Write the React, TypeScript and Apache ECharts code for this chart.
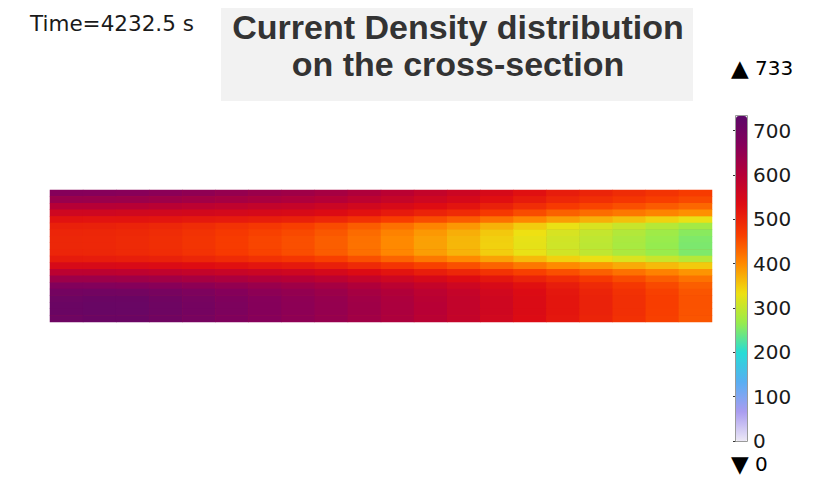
import React, { useEffect, useRef } from "react";
import * as echarts from "echarts";

// Cross-section columns (left to right) and rows (top to bottom)
const columns = ["0","1","2","3","4","5","6","7","8","9","10","11","12","13","14","15","16","17","18","19"];
const rows = ["r0","r1","r2","r3","r4","r5","r6","r7","r8","r9","r10","r11","r12","r13","r14","r15","r16","r17","r18","r19"];

// Current density values per row (A/m^2), left to right
const row0 = [668,667,664,660,654,646,639,632,622,609,593,578,565,546,528,510,500,489,479,468];
const row1 = [640,639,637,633,628,622,616,610,601,588,574,560,548,529,512,495,485,475,465,455];
const row2 = [600,599,598,595,590,585,580,575,567,556,544,533,522,504,487,470,460,450,440,430];
const row3 = [560,560,558,557,554,551,548,545,537,526,513,501,490,471,453,435,425,415,405,395];
const row4 = [525,524,523,521,517,513,509,505,495,482,467,453,440,421,403,385,371,358,344,330];
const row5 = [505,504,501,496,489,481,473,465,454,439,422,405,390,369,349,330,316,303,289,275];
const row6 = [498,497,494,489,481,472,463,455,443,426,407,389,372,352,333,315,301,287,272,258];
const row7 = [496,495,491,486,478,468,459,450,437,421,401,383,366,346,328,310,296,281,267,252];
const row8 = [496,495,491,486,478,468,459,450,437,420,401,382,365,345,326,308,294,279,265,250];
const row9 = [498,497,493,488,480,470,461,452,439,423,403,385,368,348,329,310,296,281,267,252];
const row10 = [512,511,508,504,497,490,482,475,464,449,432,415,400,381,363,345,331,318,304,290];
const row11 = [545,544,542,538,533,527,521,515,505,492,477,463,450,433,416,400,388,375,363,350];
const row12 = [590,589,587,583,578,572,566,560,550,537,522,508,495,479,464,450,436,421,407,392];
const row13 = [635,634,632,627,621,614,607,600,590,577,562,548,535,519,503,488,471,454,437,420];
const row14 = [672,671,668,663,656,648,640,632,622,608,591,576,562,544,527,510,492,474,455,437];
const row15 = [695,698,696,690,680,668,657,648,637,622,606,590,575,555,537,518,500,482,463,445];
const row16 = [706,710,710,702,690,677,666,655,644,629,612,595,580,559,539,520,502,484,466,448];
const row17 = [710,714,713,705,693,680,668,657,646,631,614,597,580,559,539,520,502,484,466,448];
const row18 = [710,714,713,705,693,680,668,657,646,631,614,597,580,559,539,520,502,484,465,447];
const row19 = [705,710,710,702,690,677,666,655,644,629,612,595,578,557,537,518,500,482,463,445];
const gridRows = [row0,row1,row2,row3,row4,row5,row6,row7,row8,row9,row10,row11,row12,row13,row14,row15,row16,row17,row18,row19];

const rangeMin = 0;
const rangeMax = 733;
const colorbarTicks = [0,100,200,300,400,500,600,700];

const timeLabel = "Time=4232.5 s";
const titleText = "Current Density distribution\non the cross-section";

const colorStops = [
  "#ece8f6", "#a99cf0", "#58aef2", "#26dcd6", "#98ec4c", "#eee012",
  "#ff8a00", "#f83c00", "#de0c12", "#b60036", "#86005a", "#5c0868"
];

export default function App() {
  const ref = useRef<HTMLDivElement>(null);
  useEffect(() => {
    if (!ref.current) return;
    const chart = echarts.init(ref.current, null, { renderer: "svg" });
    const data: number[][] = [];
    gridRows.forEach((r, ri) => r.forEach((v, ci) => data.push([ci, ri, v])));
    const richTri = { t: { fontSize: 23, lineHeight: 20, fontFamily: "DejaVu Sans", fill: "#000" } };
    chart.setOption({
      animation: false,
      backgroundColor: "#ffffff",
      grid: [
        { left: 50, top: 190, width: 662, height: 132, show: true, backgroundColor: "#e2300c", borderWidth: 0 },
        { left: 736, top: 116, width: 11, height: 325, show: false },
      ],
      xAxis: [
        { type: "category", data: columns, gridIndex: 0, show: false },
        { type: "value", gridIndex: 1, show: false, min: 0, max: 1 },
      ],
      yAxis: [
        { type: "category", data: rows, gridIndex: 0, show: false, inverse: true },
        {
          type: "value", gridIndex: 1, min: rangeMin, max: rangeMax, interval: 100, position: "right",
          axisLine: { show: false },
          axisTick: { show: true, inside: true, length: 3, lineStyle: { color: "#333" } },
          splitLine: { show: false },
          axisLabel: {
            showMaxLabel: false, fontSize: 20, color: "#1a1a1a", fontFamily: "DejaVu Sans", margin: 6,
            formatter: (v: number) => (colorbarTicks.includes(v) ? String(v) : ""),
          },
        },
      ],
      visualMap: {
        type: "continuous", min: rangeMin, max: rangeMax, left: 736, top: 116,
        itemWidth: 11, itemHeight: 325, padding: 0, calculable: false, hoverLink: false,
        seriesIndex: 0, inRange: { color: colorStops }, text: null,
      },
      series: [
        {
          type: "heatmap", xAxisIndex: 0, yAxisIndex: 0, data,
          itemStyle: { borderWidth: 0 }, emphasis: { disabled: true }, progressive: 0,
        },
        { type: "line", xAxisIndex: 1, yAxisIndex: 1, data: [], silent: true },
      ],
      graphic: [
        { type: "rect", shape: { x: 221, y: 8, width: 472, height: 93 }, style: { fill: "#f2f2f2" }, z: 1 },
        {
          type: "text", x: 458, y: 45, z: 2,
          style: {
            text: titleText, font: "bold 34px 'Liberation Sans', Arial, sans-serif", fill: "#333333",
            align: "center", verticalAlign: "middle", lineHeight: 37,
          },
        },
        {
          type: "text", x: 30, y: 23, z: 2,
          style: { text: timeLabel, font: "21.5px 'DejaVu Sans'", fill: "#1a1a1a", align: "left", verticalAlign: "middle" },
        },
        {
          type: "text", x: 731, y: 68, z: 2,
          style: { text: "{t|▲} 733", font: "20px 'DejaVu Sans'", fill: "#000000", align: "left", verticalAlign: "middle", lineHeight: 20, rich: richTri },
        },
        {
          type: "text", x: 731, y: 464, z: 2,
          style: { text: "{t|▼} 0", font: "20px 'DejaVu Sans'", fill: "#000000", align: "left", verticalAlign: "middle", lineHeight: 20, rich: richTri },
        },
        {
          type: "rect", shape: { x: 735.5, y: 115.5, width: 12, height: 326 }, z: 100,
          style: { fill: "none", stroke: "#9a9a9a", lineWidth: 1 },
        },
      ],
    });
    return () => chart.dispose();
  }, []);
  return <div ref={ref} style={{ position: "absolute", left: 0, top: 0, width: 825, height: 477 }} />;
}
